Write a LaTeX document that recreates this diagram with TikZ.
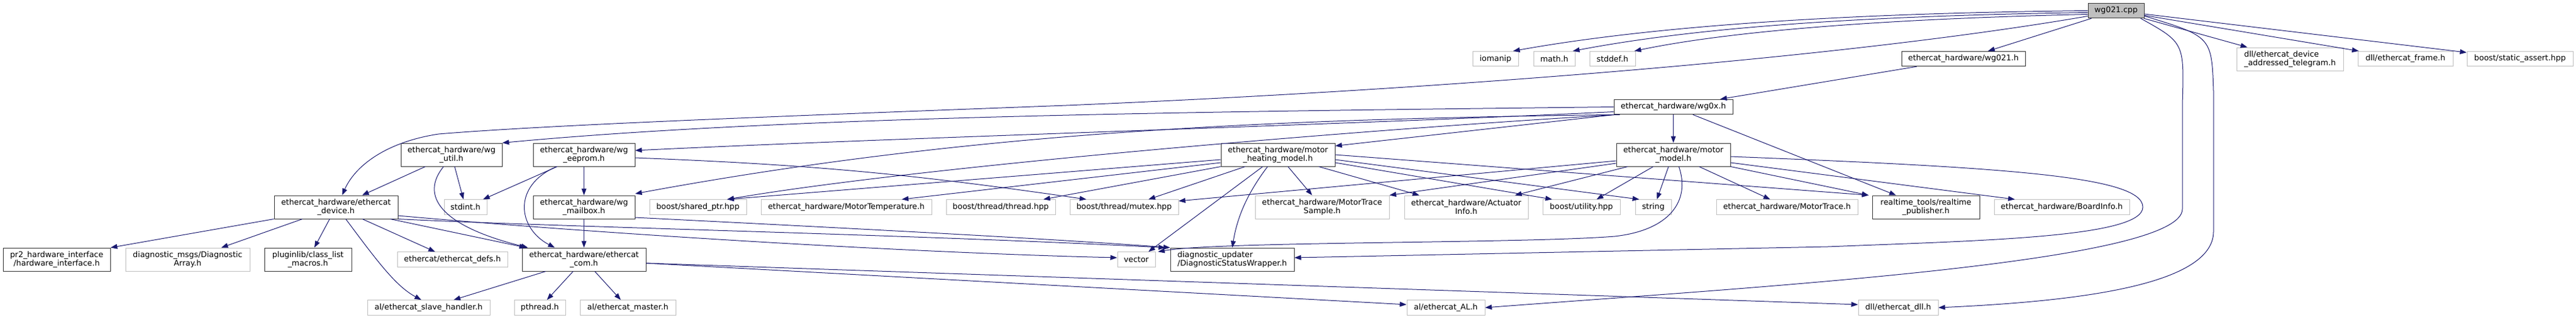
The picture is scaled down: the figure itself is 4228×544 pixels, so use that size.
\documentclass[tikz,border=0pt]{standalone}
\usepackage{fontspec}
\setmainfont{DejaVu Sans}
\usetikzlibrary{arrows.meta}
\definecolor{edgeblue}{HTML}{191970}
\definecolor{extgray}{HTML}{BFBFBF}
\begin{document}
\begin{tikzpicture}[x=1pt,y=-1pt,
    file/.style={rectangle,draw=black!80,line width=1pt,inner sep=0pt,minimum height=24.5pt,
      font=\fontsize{12.9}{14}\selectfont,align=center},
    ext/.style={file,draw=extgray},
    two/.style={minimum height=38pt},
    dep/.style={draw=edgeblue,line width=1pt,-{Triangle[length=11pt,width=8pt]}}]
  \useasboundingbox (0,0) rectangle (4228,544);
  \node[file,fill=extgray,minimum width=92pt] (cpp) at (3473,17.5) {wg021.cpp};
  \node[ext,minimum width=75pt] (iomanip) at (2454.5,96.5) {iomanip};
  \node[ext,minimum width=68pt] (math) at (2551,96.5) {math.h};
  \node[ext,minimum width=75pt] (stddef) at (2646.5,96.5) {stddef.h};
  \node[file,minimum width=203pt] (wg021h) at (3222.5,96.5) {ethercat\_hardware/wg021.h};
  \node[ext,two,minimum width=175pt,align=left] (telegram) at (3758.5,97) {dll/ethercat\_device\\\_addressed\_telegram.h};
  \node[ext,minimum width=156pt] (frame) at (3948,96.5) {dll/ethercat\_frame.h};
  \node[ext,minimum width=174pt] (sassert) at (4136,96.5) {boost/static\_assert.hpp};
  \node[file,minimum width=195pt] (wg0x) at (2746.5,175.5) {ethercat\_hardware/wg0x.h};
  \node[file,two,minimum width=166pt] (wgutil) at (741,254) {ethercat\_hardware/wg\\\_util.h};
  \node[file,two,minimum width=167pt] (eeprom) at (958.5,254) {ethercat\_hardware/wg\\\_eeprom.h};
  \node[file,two,minimum width=187pt] (heating) at (2097.5,254) {ethercat\_hardware/motor\\\_heating\_model.h};
  \node[file,two,minimum width=187pt] (motor) at (2746.5,254) {ethercat\_hardware/motor\\\_model.h};
  \node[file,two,minimum width=203pt] (device) at (551.5,340) {ethercat\_hardware/ethercat\\\_device.h};
  \node[ext,minimum width=70pt] (stdint) at (764,340) {stdint.h};
  \node[file,two,minimum width=167pt] (mailbox) at (958.5,340) {ethercat\_hardware/wg\\\_mailbox.h};
  \node[ext,minimum width=159pt] (shared) at (1145.5,340) {boost/shared\_ptr.hpp};
  \node[ext,minimum width=280pt] (temp) at (1389,340) {ethercat\_hardware/MotorTemperature.h};
  \node[ext,minimum width=179pt] (thread) at (1642.5,340) {boost/thread/thread.hpp};
  \node[ext,minimum width=178pt] (mutex) at (1845,340) {boost/thread/mutex.hpp};
  \node[ext,two,minimum width=220pt] (sample) at (2170,340) {ethercat\_hardware/MotorTrace\\Sample.h};
  \node[ext,two,minimum width=203pt] (actuator) at (2406.5,340) {ethercat\_hardware/Actuator\\Info.h};
  \node[ext,minimum width=127pt] (utility) at (2595.5,340) {boost/utility.hpp};
  \node[ext,minimum width=59pt] (string) at (2713.5,340) {string};
  \node[ext,minimum width=232pt] (trace) at (2933,340) {ethercat\_hardware/MotorTrace.h};
  \node[file,two,minimum width=176pt] (publisher) at (3161,340) {realtime\_tools/realtime\\\_publisher.h};
  \node[ext,minimum width=222pt] (board) at (3384,340) {ethercat\_hardware/BoardInfo.h};
  \node[file,two,minimum width=176pt] (hwif) at (93,426) {pr2\_hardware\_interface\\/hardware\_interface.h};
  \node[ext,two,minimum width=204pt] (diagarray) at (308,426) {diagnostic\_msgs/Diagnostic\\Array.h};
  \node[file,two,minimum width=143pt] (plugin) at (505.5,426) {pluginlib/class\_list\\\_macros.h};
  \node[ext,minimum width=181pt] (defs) at (742.5,426) {ethercat/ethercat\_defs.h};
  \node[file,two,minimum width=203pt] (com) at (958.5,426) {ethercat\_hardware/ethercat\\\_com.h};
  \node[ext,minimum width=62pt] (vector) at (1865,426) {vector};
  \node[file,two,minimum width=203pt,align=left] (wrapper) at (2022.5,426) {diagnostic\_updater\\/DiagnosticStatusWrapper.h};
  \node[ext,minimum width=201pt] (slave) at (703.5,505) {al/ethercat\_slave\_handler.h};
  \node[ext,minimum width=84pt] (pthread) at (886,505) {pthread.h};
  \node[ext,minimum width=157pt] (master) at (1030.5,505) {al/ethercat\_master.h};
  \node[ext,minimum width=128pt] (al) at (2373,505) {al/ethercat\_AL.h};
  \node[ext,minimum width=131pt] (dll) at (3115.5,505) {dll/ethercat\_dll.h};

  \draw[dep] (cpp.west) .. controls (3000,22) and (2700,45) .. ([xshift=-9pt]iomanip.north east);
  \draw[dep] ([yshift=-3pt]cpp.west) .. controls (3000,27) and (2760,50) .. ([xshift=-4pt]math.north east);
  \draw[dep] ([yshift=-6pt]cpp.west) .. controls (3050,32) and (2820,55) .. ([xshift=-2pt]stddef.north east);
  \draw[dep] (cpp) -- (wg021h);
  \draw[dep] (cpp) -- (telegram);
  \draw[dep] (cpp) -- (frame);
  \draw[dep] (cpp) -- (sassert);
  \draw[dep] ([xshift=-6pt]cpp.south east) .. controls (3585,70) .. (3582,170) -- (3582,343)
    .. controls (3582,430) and (2900,470) .. (al.east);
  \draw[dep] ([yshift=4pt]cpp.south east) .. controls (3630,60) .. (3633,150) -- (3633,380)
    .. controls (3633,470) and (3400,495) .. (dll.east);
  \draw[dep] ([yshift=-9pt]cpp.west) .. controls (3000,100) and (2300,150) .. (1750,173)
    .. controls (1300,190) and (900,205) .. (720,220) .. controls (640,232) and (585,268) .. ([xshift=10pt]device.north);

  \draw[dep] (wg021h) -- (wg0x);

  \draw[dep] (wg0x.west) .. controls (2000,183) and (1300,190) .. (wgutil.north east);
  \draw[dep] ([yshift=-8pt]wg0x.west) .. controls (2200,205) and (1500,225) .. ([yshift=7pt]eeprom.east);
  \draw[dep] ([xshift=10pt]wg0x.south west) .. controls (2100,195) and (1600,215) .. ([yshift=22pt]mailbox.east);
  \draw[dep] ([xshift=5pt]wg0x.south west) .. controls (2200,215) and (1500,275) .. ([xshift=48pt]shared.north);
  \draw[dep] ([xshift=2pt]wg0x.south west) -- ([yshift=-5pt]heating.north east);
  \draw[dep] (wg0x) -- (motor);
  \draw[dep] (wg0x) -- (publisher);

  \draw[dep] (wgutil) -- (device);
  \draw[dep] (wgutil) -- (stdint);
  \draw[dep] ([xshift=-13pt]wgutil.south) .. controls (690,320) and (720,370) .. ([xshift=-92pt]com.north);

  \draw[dep] (eeprom) -- (stdint);
  \draw[dep] (eeprom) -- (mailbox);
  \draw[dep] ([xshift=-45pt]eeprom.south) .. controls (840,305) and (850,375) .. ([xshift=-48pt]com.north);
  \draw[dep] ([yshift=-5pt]eeprom.east) to[bend left=3] ([xshift=-62pt]mutex.north);

  \draw[dep] (mailbox) -- (com);
  \draw[dep] ([yshift=-17pt]mailbox.east) .. controls (1300,370) and (1700,390) .. (wrapper.north west);

  \draw[dep] (device.south west) -- (hwif.north east);
  \draw[dep] (device) -- (diagarray);
  \draw[dep] (device) -- (plugin);
  \draw[dep] ([xshift=16pt]device.south) .. controls (620,430) and (650,470) .. ([xshift=-12pt]slave.north);
  \draw[dep] (device) -- (defs);
  \draw[dep] ([xshift=-13pt]device.south east) -- ([xshift=-95pt]com.north);
  \draw[dep] ([yshift=-14pt]device.east) .. controls (1000,385) and (1500,415) .. ([yshift=3pt]vector.west);
  \draw[dep] (device.south east) .. controls (900,372) and (1500,385) .. ([xshift=-8pt]wrapper.north west);

  \draw[dep] (com) -- (slave);
  \draw[dep] (com) -- (pthread);
  \draw[dep] (com) -- (master);
  \draw[dep] ([yshift=-6pt]com.east) -- ([yshift=5pt]al.west);
  \draw[dep] ([yshift=-6pt]com.east) -- ([yshift=5pt]dll.west);

  \draw[dep] ([yshift=-8pt]heating.west) -- ([xshift=48pt]shared.north);
  \draw[dep] ([yshift=-13pt]heating.west) -- ([xshift=91pt]temp.north);
  \draw[dep] (heating.south west) -- ([xshift=70pt]thread.north);
  \draw[dep] ([xshift=-54pt]heating.south) -- ([xshift=40pt]mutex.north);
  \draw[dep] ([xshift=-25pt]heating.south) -- ([xshift=20pt]vector.north);
  \draw[dep] ([xshift=-17pt]heating.south) .. controls (2045,320) and (2030,360) .. (wrapper.north);
  \draw[dep] (heating) -- (sample);
  \draw[dep] ([xshift=67pt]heating.south) -- ([xshift=-77pt]actuator.north);
  \draw[dep] (heating.east) -- ([xshift=-94pt]publisher.north);
  \draw[dep] ([yshift=-8pt]heating.east) -- ([xshift=-23pt]string.north);
  \draw[dep] ([yshift=-13pt]heating.east) -- ([xshift=-48pt]utility.north);

  \draw[dep] ([yshift=-10pt]motor.west) -- ([yshift=10pt]mutex.east);
  \draw[dep] ([yshift=-14pt]motor.west) -- (sample.north east);
  \draw[dep] ([xshift=-75pt]motor.south) -- ([xshift=80pt]actuator.north);
  \draw[dep] ([xshift=-33pt]motor.south) -- ([xshift=25pt]utility.north);
  \draw[dep] ([xshift=-8pt]motor.south) -- ([xshift=6pt]string.north);
  \draw[dep] ([xshift=9pt]motor.south) .. controls (2775,330) and (2740,378) .. (2650,388)
    .. controls (2500,400) and (2000,396) .. ([xshift=4pt]vector.north east);
  \draw[dep] (motor) -- (trace);
  \draw[dep] (motor.south east) -- ([xshift=-94pt]publisher.north);
  \draw[dep] ([yshift=-13pt]motor.east) -- ([xshift=-77pt]board.north);
  \draw[dep] ([yshift=-3pt]motor.east) .. controls (3300,275) and (3517,290) .. (3517,340)
    .. controls (3517,390) and (3250,395) .. (3000,405) -- ([yshift=3pt]wrapper.east);
\end{tikzpicture}
\end{document}
